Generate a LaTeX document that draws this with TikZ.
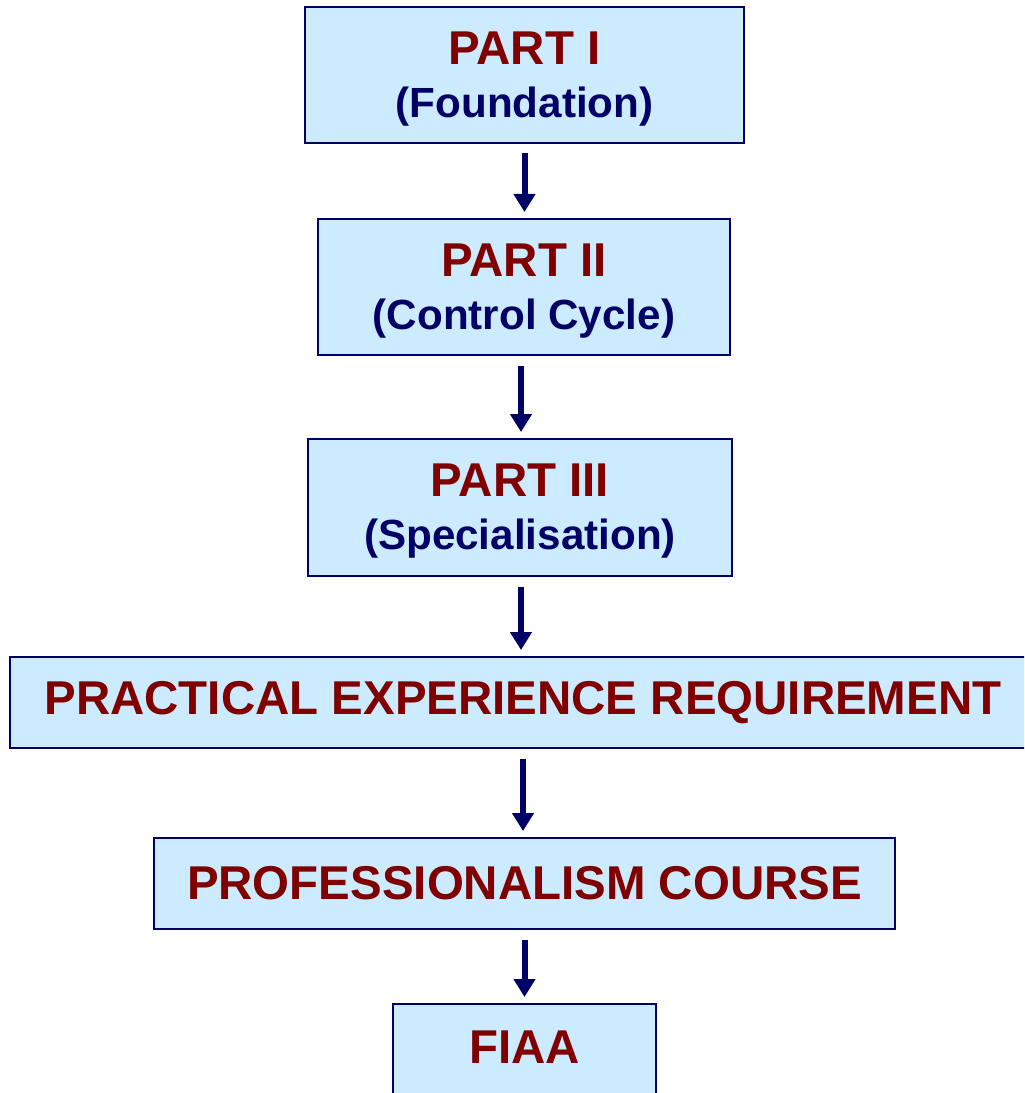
\documentclass[tikz,border=0pt]{standalone}
\usepackage{fontspec}
\setmainfont{Liberation Sans}
\usepackage{tikz}
\usetikzlibrary{arrows.meta,calc}
\definecolor{boxfill}{RGB}{204,235,255}
\definecolor{boxline}{RGB}{0,0,102}
\definecolor{partred}{RGB}{128,0,0}
\definecolor{subblue}{RGB}{0,0,102}
\newcommand{\partstrut}{\rule{0pt}{23pt}}
\newcommand{\parttitle}[1]{{\color{partred}\fontsize{27}{30}\selectfont #1}}
\newcommand{\partsub}[1]{{\color{subblue}\fontsize{24}{30}\selectfont #1}}
\tikzset{
    %Define style for boxes
    stage/.style={
        rectangle,
        draw=boxline, line width=0.04cm,
        fill=boxfill,
        align=center,
        font=\bfseries\fontsize{24}{30}\selectfont,
        inner sep=0pt,
    },
    flow/.style={
        draw=boxline,
        line width=0.12cm,
        -{Triangle[length=0.36cm,width=0.42cm]},
        shorten <=0.19cm,
        shorten >=0.12cm,
    },
}
\begin{document}
\begin{tikzpicture}
		\useasboundingbox (0,0) rectangle (20.48,-21.86);
		\clip (0,0) rectangle (20.48,-21.86);

		\node[stage, minimum width=8.78cm, minimum height=2.72cm] (P1) at (10.49,-1.5)
			{\partstrut\parttitle{PART I}\\\partsub{(Foundation)}};
		\node[stage, minimum width=8.24cm, minimum height=2.72cm] (P2) at (10.48,-5.74)
			{\partstrut\parttitle{PART II}\\\partsub{(Control Cycle)}};
		\node[stage, minimum width=8.48cm, minimum height=2.74cm] (P3) at (10.40,-10.15)
			{\partstrut\parttitle{PART III}\\\partsub{(Specialisation)}};
		\node[stage, minimum width=20.52cm, minimum height=1.82cm] (PER) at (10.46,-14.05)
			{\parttitle{PRACTICAL EXPERIENCE REQUIREMENT}};
		\node[stage, minimum width=14.82cm, minimum height=1.82cm] (PC) at (10.49,-17.67)
			{\parttitle{PROFESSIONALISM COURSE}};
		\node[stage, minimum width=5.26cm, minimum height=2.72cm,
			text height=0.68cm, text depth=1.04cm] (FIAA) at (10.49,-21.44)
			{\parttitle{FIAA}};

		% arrow feet, a little off the box centres
		\coordinate (a2) at ($(P2.south)+(-0.06,0)$);
		\coordinate (a3) at ($(P3.south)+(0.02,0)$);

		\draw[flow] (P1.south) -- (P1.south |- P2.north);
		\draw[flow] (a2) -- (a2 |- P3.north);
		\draw[flow] (a3) -- (a3 |- PER.north);
		\draw[flow] (PER.south) -- (PER.south |- PC.north);
		\draw[flow] (PC.south) -- (PC.south |- FIAA.north);
	\end{tikzpicture}
\end{document}
